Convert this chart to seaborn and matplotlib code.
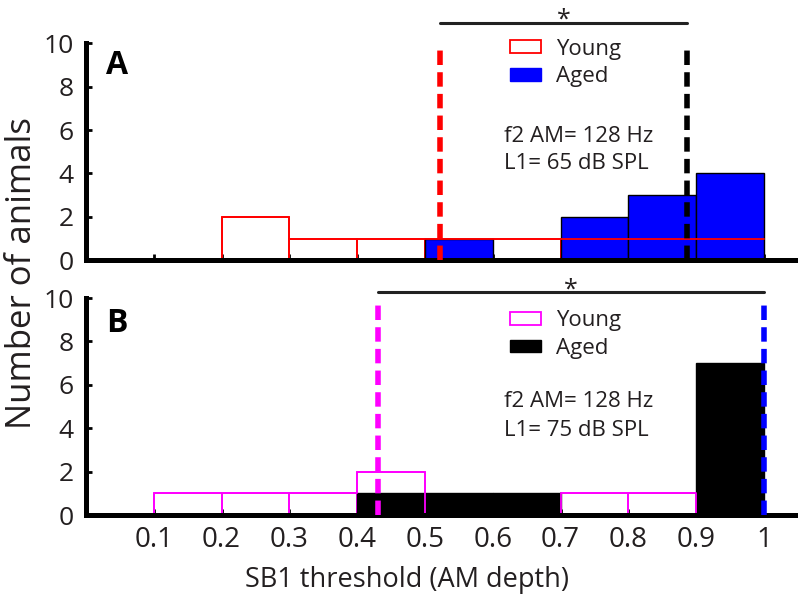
import numpy as np
import pandas as pd
import matplotlib
matplotlib.use("Agg")
import matplotlib.pyplot as plt
from matplotlib.patches import Patch
import seaborn as sns

# ---- data ----
bin_edges = [0.0, 0.1, 0.2, 0.3, 0.4, 0.5, 0.6, 0.7, 0.8, 0.9, 1.0]
bin_centers = [0.05, 0.15, 0.25, 0.35, 0.45, 0.55, 0.65, 0.75, 0.85, 0.95]
young_A = [0, 0, 2, 1, 1, 1, 1, 1, 1, 1]
aged_A = [0, 0, 0, 0, 0, 1, 0, 2, 3, 4]
young_B = [0, 1, 1, 1, 2, 0, 0, 1, 1, 0]
aged_B = [0, 0, 0, 0, 1, 1, 1, 0, 0, 7]
mean_young_A, mean_aged_A = 0.522, 0.886
mean_young_B, mean_aged_B = 0.43, 1.0
xticks = [0.1, 0.2, 0.3, 0.4, 0.5, 0.6, 0.7, 0.8, 0.9, 1.0]
xtick_labels = ["0.1", "0.2", "0.3", "0.4", "0.5", "0.6", "0.7", "0.8", "0.9", "1"]
yticks = [0, 2, 4, 6, 8, 10]
panel_labels = ["A", "B"]
cond_text = [["f2 AM= 128 Hz", "L1= 65 dB SPL"], ["f2 AM= 128 Hz", "L1= 75 dB SPL"]]

sns.set_style("ticks")
plt.rcParams["font.family"] = ["Open Sans", "DejaVu Sans"]
TXT = "#231f20"

fig = plt.figure(figsize=(8, 6.01), dpi=100)
axA = fig.add_axes([0.1075, 0.567, 0.8865, 0.361])
axB = fig.add_axes([0.1075, 0.143, 0.8865, 0.361])

panels = [
    dict(ax=axA, young=young_A, aged=aged_A, ycol="red", acol="blue",
         my=mean_young_A, ma=mean_aged_A, mycol="red", macol="black",
         sig_y=10.92, star_y=10.78, leg=(0.585, 1.062), txt_y=(5.7, 4.45), lab_y=8.99),
    dict(ax=axB, young=young_B, aged=aged_B, ycol="magenta", acol="black",
         my=mean_young_B, ma=mean_aged_B, mycol="magenta", macol="blue",
         sig_y=10.28, star_y=10.05, leg=(0.585, 0.985), txt_y=(5.25, 3.9), lab_y=8.85),
]

for i, p in enumerate(panels):
    ax = p["ax"]
    df = pd.DataFrame({"x": bin_centers, "aged": p["aged"], "young": p["young"]})
    # young outline bars (beneath aged)
    sns.histplot(data=df, x="x", weights="young", bins=bin_edges, ax=ax,
                 color=p["ycol"], fill=False, linewidth=1.3, zorder=0.8)
    # aged filled bars
    sns.histplot(data=df, x="x", weights="aged", bins=bin_edges, ax=ax,
                 color=p["acol"], edgecolor="black", linewidth=1.0, alpha=1, zorder=1)
    # young outline on top
    sns.histplot(data=df, x="x", weights="young", bins=bin_edges, ax=ax,
                 element="step", color=p["ycol"], fill=False, linewidth=1.3, zorder=2)
    ax.plot([p["my"], p["my"]], [0, 9.9], color=p["mycol"], lw=4.0,
            linestyle=(0, (2.6, 1.3)), zorder=4, solid_capstyle="butt")
    ax.plot([p["ma"], p["ma"]], [0, 9.9], color=p["macol"], lw=4.0,
            linestyle=(0, (2.6, 1.3)), zorder=4, solid_capstyle="butt")
    # significance bar
    ax.plot([p["my"], p["ma"]], [p["sig_y"], p["sig_y"]], color="#222222", lw=2.2,
            clip_on=False, zorder=5)
    ax.text((p["my"] + p["ma"]) / 2, p["star_y"], "*", ha="center", va="baseline",
            fontsize=18, color=TXT, clip_on=False)
    ax.set_xlim(0, 1.046)
    ax.set_ylim(0, 10)
    ax.set_yticks(yticks)
    ax.set_xticks(xticks)
    ax.set_ylabel("")
    ax.set_xlabel("")
    sns.despine(ax=ax)
    ax.spines["left"].set_bounds(0, 10)
    for s in ("left", "bottom"):
        ax.spines[s].set_linewidth(3.6)
        ax.spines[s].set_color("black")
        ax.spines[s].set_zorder(3)
    ax.tick_params(direction="in", length=4, width=2, color="black",
                   labelsize=20, labelcolor=TXT)
    ax.tick_params(axis="y", pad=9, labelsize=19)
    ax.tick_params(axis="x", pad=8)
    ax.text(0.046, p["lab_y"], panel_labels[i], fontsize=23, fontweight="bold",
            ha="center", va="center", color="black")
    ax.text(0.616, p["txt_y"][0], cond_text[i][0], fontsize=16, color=TXT, va="center")
    ax.text(0.616, p["txt_y"][1], cond_text[i][1], fontsize=16, color=TXT, va="center")
    handles = [Patch(facecolor="none", edgecolor=p["ycol"], linewidth=1.3, label="Young"),
               Patch(facecolor=p["acol"], edgecolor=p["acol"], label="Aged")]
    ax.legend(handles=handles, loc="upper left", bbox_to_anchor=p["leg"], frameon=False,
              fontsize=16, handlelength=1.4, handleheight=0.5, handletextpad=0.7,
              labelspacing=0.3, borderaxespad=0, labelcolor=TXT)

axA.set_xticklabels([])
axB.set_xticklabels(xtick_labels)
axB.set_xlabel("SB1 threshold (AM depth)", fontsize=19.5, color=TXT)
axB.xaxis.set_label_coords(0.453, -0.235)
fig.text(0.028, 0.546, "Number of animals", rotation=90, fontsize=25, color=TXT,
         ha="center", va="center")

fig.savefig("out.png", dpi=100)
